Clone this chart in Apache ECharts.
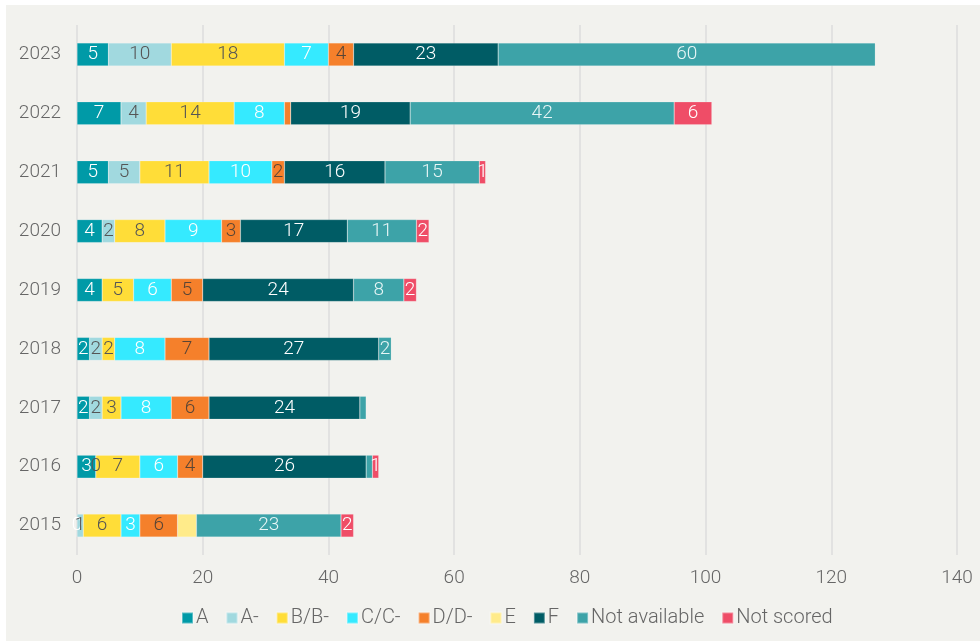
<!DOCTYPE html>
<html>
<head>
<meta charset="utf-8">
<script src="https://cdn.jsdelivr.net/npm/echarts@6/dist/echarts.min.js"></script>
<style>
  html, body { margin: 0; padding: 0; background: #ffffff; }
  #chart { position: absolute; left: 6px; top: 5px; width: 974px; height: 636px; }
</style>
</head>
<body>
<div id="chart"></div>
<script>
// years top to bottom
var years = ['2023', '2022', '2021', '2020', '2019', '2018', '2017', '2016', '2015'];

var gradeA      = [5, 7, 5, 4, 4, 2, 2, 3, 0];
var gradeAMinus = [10, 4, 5, 2, null, 2, 2, 0, 1];
var gradeB      = [18, 14, 11, 8, 5, 2, 3, 7, 6];
var gradeC      = [7, 8, 10, 9, 6, 8, 8, 6, 3];
var gradeD      = [4, 1, 2, 3, 5, 7, 6, 4, 6];
var gradeE      = [null, null, null, null, null, null, null, null, 3];
var gradeF      = [23, 19, 16, 17, 24, 27, 24, 26, null];
var notAvail    = [60, 42, 15, 11, 8, 2, 1, 1, 23];
var notScored   = [null, 6, 1, 2, 2, null, null, 1, 2];

var xTicks = [0, 20, 40, 60, 80, 100, 120, 140];

// segments drawn without a number in the original
var noLabel = {
    'D/D-': ['2022'],
    'E': years,
    'Not available': ['2017', '2016']
};

var seriesDefs = [
    { name: 'A', data: gradeA, color: '#009aa7', text: '#ffffff' },
    { name: 'A-', data: gradeAMinus, color: '#a1d9df', text: '#555555' },
    { name: 'B/B-', data: gradeB, color: '#ffdd38', text: '#555555' },
    { name: 'C/C-', data: gradeC, color: '#35eaff', text: '#ffffff' },
    { name: 'D/D-', data: gradeD, color: '#f5802b', text: '#5a4535' },
    { name: 'E', data: gradeE, color: '#ffeb8a', text: '#555555' },
    { name: 'F', data: gradeF, color: '#005c65', text: '#ffffff' },
    { name: 'Not available', data: notAvail, color: '#3da3a8', text: '#e8f6f6' },
    { name: 'Not scored', data: notScored, color: '#ef4d67', text: '#ffffff' }
];

var font = 'Roboto';

var series = seriesDefs.map(function (s) {
    var hidden = noLabel[s.name] || [];
    return {
        name: s.name,
        type: 'bar',
        stack: 'total',
        barWidth: 23,
        itemStyle: { color: s.color, borderColor: 'rgba(255,255,255,0.35)', borderWidth: 0.5 },
        label: {
            show: true,
            position: 'inside',
            color: s.text,
            fontFamily: font,
            fontWeight: 300,
            fontSize: 19
        },
        data: s.data.map(function (v, i) {
            if (hidden.indexOf(years[i]) >= 0) {
                return { value: v, label: { show: false } };
            }
            return v;
        })
    };
});

var chart = echarts.init(document.getElementById('chart'));
chart.setOption({
    backgroundColor: '#f2f2ee',
    animation: false,
    color: seriesDefs.map(function (s) { return s.color; }),
    grid: { left: 71, right: 23, top: 20, bottom: 86 },
    xAxis: {
        type: 'value',
        min: xTicks[0],
        max: xTicks[xTicks.length - 1],
        interval: 20,
        axisLine: { show: false },
        axisTick: { show: false },
        axisLabel: { color: '#666', fontFamily: font, fontWeight: 300, fontSize: 19, margin: 14 },
        splitLine: { lineStyle: { color: '#dcdcdc', width: 1.5 } }
    },
    yAxis: {
        type: 'category',
        data: years,
        inverse: true,
        axisLine: { show: false },
        axisTick: { show: false },
        axisLabel: { color: '#666', fontFamily: font, fontWeight: 300, fontSize: 19, margin: 16 }
    },
    legend: {
        bottom: 8,
        left: 170,
        icon: 'rect',
        itemWidth: 11,
        itemHeight: 11,
        itemGap: 17,
        textStyle: { color: '#666', fontFamily: font, fontWeight: 300, fontSize: 20, padding: [0, 0, 0, -2] },
        data: seriesDefs.map(function (s) { return s.name; })
    },
    series: series
});
</script>
</body>
</html>
